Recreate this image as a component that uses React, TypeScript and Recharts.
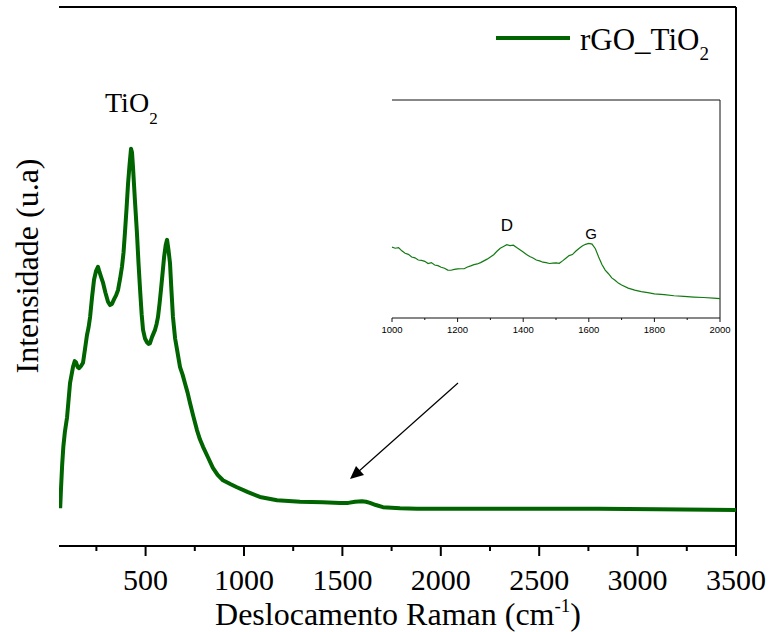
import React from "react";
import { LineChart, Line, XAxis, YAxis, ReferenceLine } from "recharts";

// main spectrum (arbitrary intensity units 0-1000)
const ramanShift = [
  66, 70, 76, 82, 90, 101, 116, 131, 140, 146, 155, 162, 172, 182, 192, 202, 210, 218, 228, 238,
  248, 258, 266, 275, 284, 296, 309, 319, 329, 340, 350, 360, 370, 380, 388, 395, 403, 411, 418, 426,
  431, 436, 446, 456, 464, 472, 480, 487, 497, 507, 515, 522, 533, 548, 556, 563, 571, 578, 586, 594,
  602, 609, 616, 624, 632, 639, 650, 660, 675, 688, 700, 713, 726, 743, 761, 776, 792, 815, 842, 866,
  893, 930, 964, 1020, 1081, 1168, 1285, 1400, 1488, 1530, 1564, 1600, 1620, 1640, 1670, 1706, 1750,
  1793, 1879, 2100, 2500, 2800, 3100, 3500,
];
const intensity = [
  70, 105, 150, 184, 212, 239, 302, 332, 343, 341, 332, 330, 334, 340, 365, 391, 405, 425, 462, 494,
  510, 518, 508, 498, 488, 470, 453, 447, 449, 458, 465, 475, 495, 518, 545, 581, 625, 673, 705, 737,
  730, 703, 640, 581, 525, 475, 430, 401, 385, 378, 375, 376, 388, 401, 412, 425, 450, 475, 505, 536,
  558, 568, 550, 525, 470, 425, 385, 364, 332, 318, 302, 285, 265, 240, 215, 198, 184, 166, 145, 132,
  122, 115, 109, 100, 91, 85, 82, 81, 80, 80, 82, 83, 82, 80, 76, 72, 71,
  70, 69, 69, 69, 69, 68, 67,
];

// inset: D and G bands
const insetShift = [
  1000, 1010, 1020, 1030, 1040, 1050, 1060, 1070, 1080, 1090, 1100, 1110, 1120, 1130, 1140, 1150,
  1160, 1170, 1180, 1190, 1200, 1210, 1220, 1230, 1240, 1250, 1260, 1270, 1280, 1290, 1300, 1310,
  1320, 1330, 1340, 1350, 1360, 1370, 1380, 1390, 1400, 1410, 1420, 1430, 1440, 1450, 1460, 1470,
  1480, 1490, 1500, 1510, 1520, 1530, 1540, 1550, 1560, 1570, 1580, 1590, 1600, 1610, 1620, 1630,
  1640, 1650, 1660, 1670, 1680, 1690, 1700, 1720, 1740, 1760, 1780, 1800, 1830, 1860, 1890, 1920,
  1950, 1980, 2000,
];
const insetIntensity = [
  32.5, 32.0, 32.3, 30.8, 29.7, 29.2, 28.0, 27.6, 26.6, 26.4, 26.0, 25.0, 25.4, 24.3, 24.0, 23.3,
  22.8, 22.0, 21.9, 22.3, 22.5, 22.6, 22.6, 23.4, 23.9, 24.5, 24.8, 25.4, 26.2, 27.0, 28.0, 29.0,
  30.6, 32.0, 32.8, 33.6, 33.2, 33.4, 32.3, 31.3, 30.3, 29.1, 28.2, 27.5, 26.6, 26.2, 25.6, 25.4,
  25.0, 25.2, 25.3, 25.1, 26.2, 27.4, 28.6, 29.1, 30.6, 31.9, 33.0, 33.8, 34.2, 33.9, 31.8, 28.0,
  24.5, 22.0, 20.3, 18.4, 17.3, 16.0, 15.1, 13.7, 12.8, 12.1, 11.6, 11.1, 10.7, 10.2, 9.9, 9.6,
  9.4, 9.1, 8.9,
];

const majorTicks = [500, 1000, 1500, 2000, 2500, 3000, 3500];
const minorTicks = [250, 750, 1250, 1750, 2250, 2750, 3250];
const insetMajor = [1000, 1200, 1400, 1600, 1800, 2000];
const insetMinor = [1100, 1300, 1500, 1700, 1900];

const mainData = ramanShift.map((x, i) => ({ x, y: intensity[i] }));
const insetData = insetShift.map((x, i) => ({ x, y: insetIntensity[i] }));

const GREEN = "#006400";
const SERIF = "'Liberation Serif', 'Times New Roman', serif";
const SANS = "'Liberation Sans', Arial, sans-serif";

const MainTick = (props: any) => {
  const { x, y, payload } = props;
  const major = majorTicks.includes(payload.value);
  return (
    <g>
      <line x1={x} x2={x} y1={y} y2={y + (major ? 10 : 5)} stroke="#000" strokeWidth={2} />
      {major && (
        <text x={x} y={y + 44} textAnchor="middle" fontFamily={SERIF} fontSize={30} fill="#000">
          {payload.value}
        </text>
      )}
    </g>
  );
};

const InsetTick = (props: any) => {
  const { x, y, payload } = props;
  const major = insetMajor.includes(payload.value);
  return (
    <g>
      <line x1={x} x2={x} y1={y} y2={y + (major ? 4 : 2)} stroke="#111" strokeWidth={1} />
      {major && (
        <text x={x} y={y + 15} textAnchor="middle" fontFamily={SANS} fontSize={9.5} fill="#000">
          {payload.value}
        </text>
      )}
    </g>
  );
};

export default function App() {
  return (
    <div style={{ position: "absolute", left: 0, top: 0, width: 776, height: 632, background: "#fff" }}>
      <LineChart width={776} height={632} data={mainData} margin={{ top: 7, right: 40, left: 59, bottom: 0 }}>
        <XAxis
          type="number"
          dataKey="x"
          domain={[60, 3500]}
          ticks={[...majorTicks, ...minorTicks].sort((a, b) => a - b)}
          interval={0}
          height={86}
          tickSize={0}
          tickMargin={0}
          tickLine={false}
          tick={<MainTick />}
          axisLine={{ stroke: "#000", strokeWidth: 2 }}
          allowDataOverflow
        />
        <YAxis
          type="number"
          domain={[0, 1000]}
          width={0}
          tick={false}
          tickLine={false}
          axisLine={{ stroke: "#000", strokeWidth: 2 }}
          allowDataOverflow
        />
        <ReferenceLine y={1000} stroke="#000" strokeWidth={2} />
        <ReferenceLine x={3500} stroke="#000" strokeWidth={2} />
        <Line
          type="linear"
          dataKey="y"
          stroke={GREEN}
          strokeWidth={4}
          dot={false}
          strokeLinejoin="round"
          isAnimationActive={false}
        />
      </LineChart>

      <div style={{ position: "absolute", left: 380, top: 90, width: 360, height: 250 }}>
        <LineChart width={360} height={250} data={insetData} margin={{ top: 10, right: 20, left: 12, bottom: 0 }}>
          <XAxis
            type="number"
            dataKey="x"
            domain={[1000, 2000]}
            ticks={[...insetMajor, ...insetMinor].sort((a, b) => a - b)}
            interval={0}
            height={22}
            tickSize={0}
            tickMargin={0}
            tickLine={false}
            tick={<InsetTick />}
            axisLine={{ stroke: "#111", strokeWidth: 1 }}
          />
          <YAxis
            type="number"
            domain={[0, 100]}
            width={0}
            tick={false}
            tickLine={false}
            axisLine={{ stroke: "#111", strokeWidth: 1 }}
          />
          <ReferenceLine y={100} stroke="#111" strokeWidth={1} />
          <ReferenceLine x={2000} stroke="#111" strokeWidth={1} />
          <Line
            type="linear"
            dataKey="y"
            stroke="#137a13"
            strokeWidth={1.2}
            dot={false}
            isAnimationActive={false}
          />
        </LineChart>
      </div>

      <svg width={776} height={632} style={{ position: "absolute", left: 0, top: 0, pointerEvents: "none" }}>
        {/* legend */}
        <line x1={496} x2={570} y1={38} y2={38} stroke={GREEN} strokeWidth={4} />
        <text x={580} y={50} fontFamily={SERIF} fontSize={31} fill="#000">
          rGO_TiO<tspan dy={10} fontSize={19}>2</tspan>
        </text>

        {/* peak label */}
        <text x={105} y={112} fontFamily={SERIF} fontSize={28} fill="#000">
          TiO<tspan dy={12} fontSize={17}>2</tspan>
        </text>

        {/* inset band labels */}
        <text x={507} y={231} textAnchor="middle" fontFamily={SANS} fontSize={17} fill="#000">D</text>
        <text x={591} y={239} textAnchor="middle" fontFamily={SANS} fontSize={15} fill="#000">G</text>

        {/* arrow */}
        <line x1={458} y1={383} x2={358} y2={472} stroke="#000" strokeWidth={1.2} />
        <polygon points="350,479 356,466 364,475" fill="#000" />

        {/* axis titles */}
        <text x={398} y={625} textAnchor="middle" fontFamily={SERIF} fontSize={32} fill="#000">
          Deslocamento Raman (cm<tspan dy={-13} fontSize={19}>-1</tspan>
          <tspan dy={13}>)</tspan>
        </text>
        <text
          transform="translate(38,266) rotate(-90)"
          textAnchor="middle"
          fontFamily={SERIF}
          fontSize={32}
          fill="#000"
        >
          Intensidade (u.a)
        </text>
      </svg>
    </div>
  );
}
